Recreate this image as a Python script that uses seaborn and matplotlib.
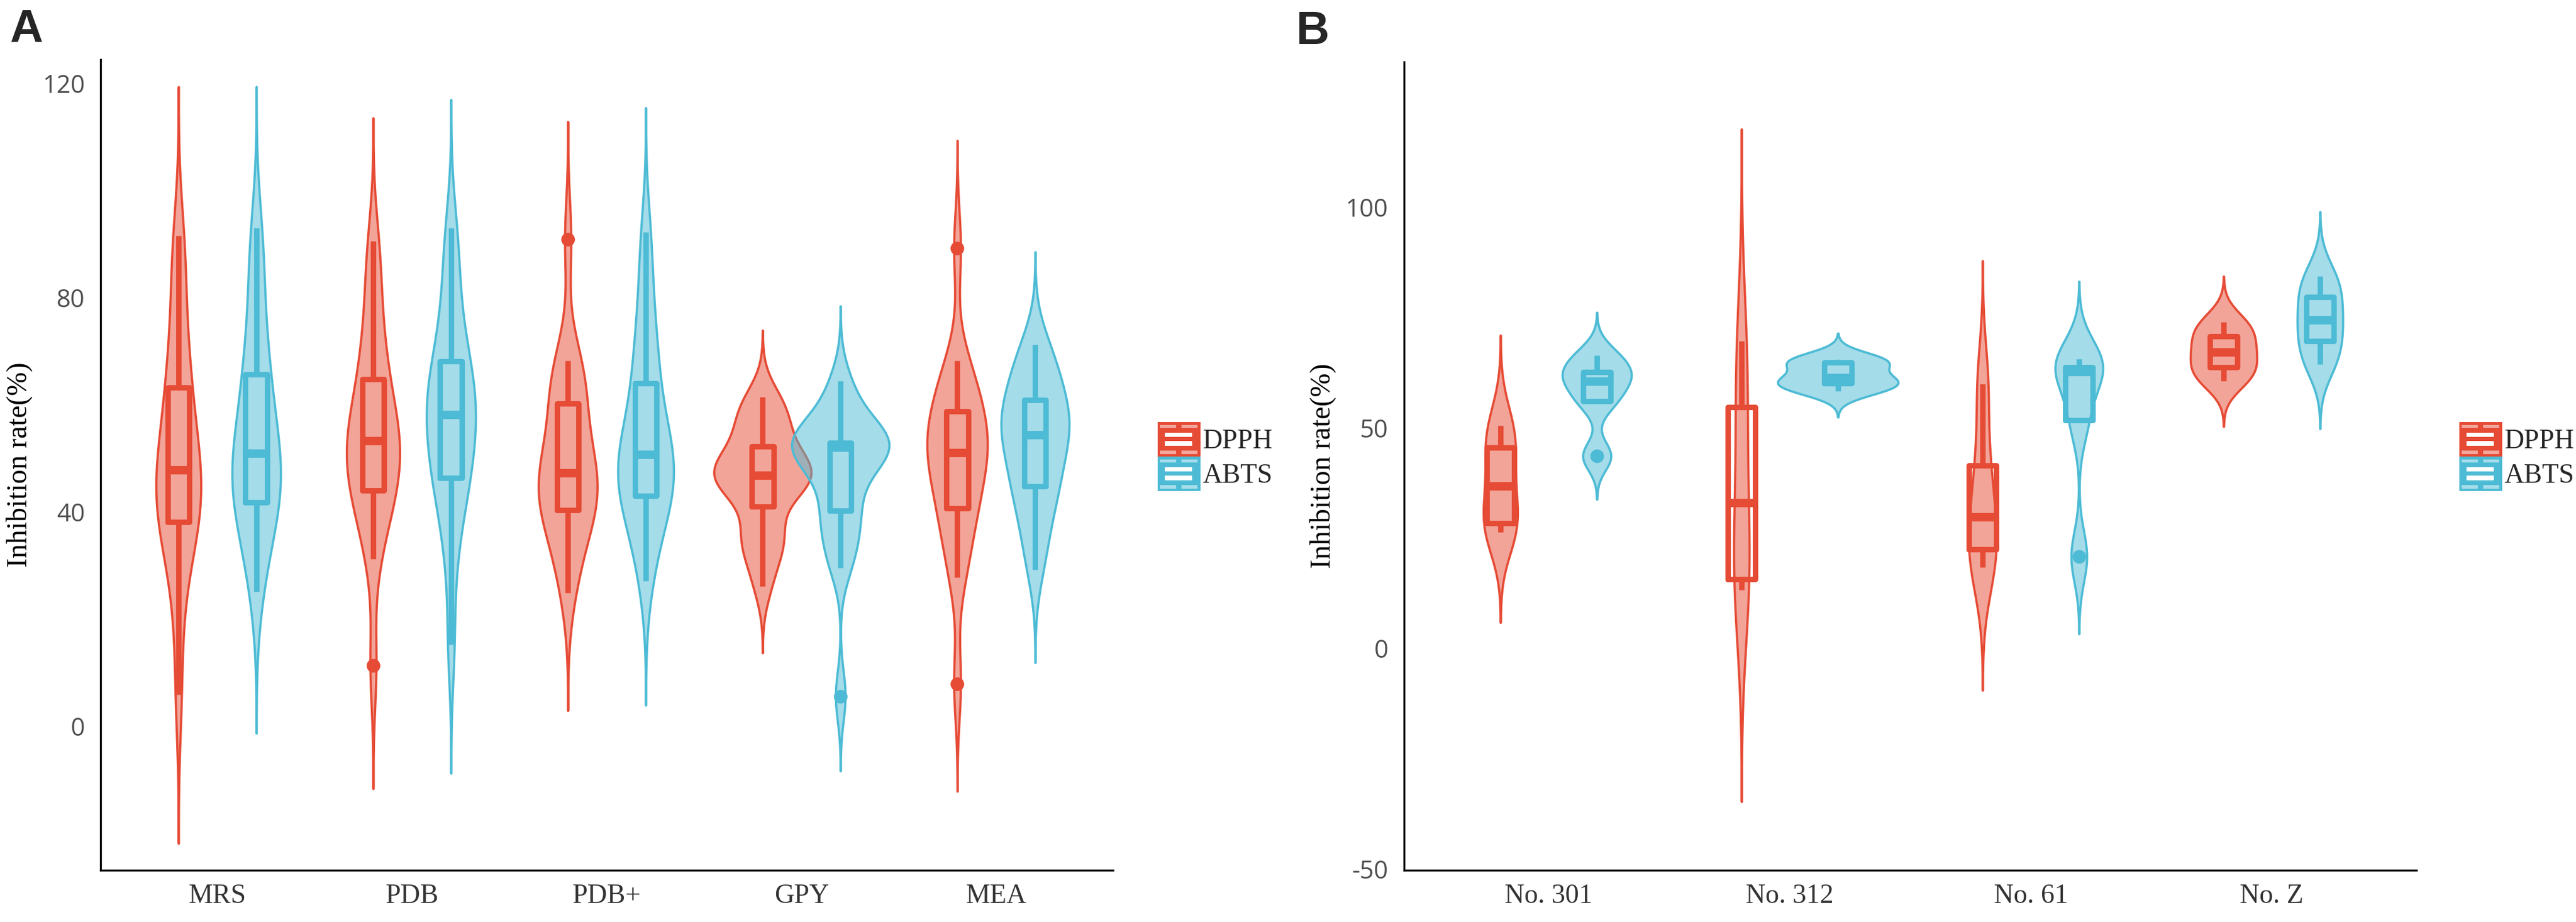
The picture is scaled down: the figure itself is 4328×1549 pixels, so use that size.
import numpy as np
import pandas as pd
import matplotlib
matplotlib.use("Agg")
import matplotlib.pyplot as plt
import seaborn as sns
from matplotlib.legend_handler import HandlerBase
from matplotlib.patches import Rectangle, Patch
from matplotlib.transforms import Affine2D

# ---- data (inhibition rate, %) ----
methods = ['DPPH', 'ABTS']
media = ['MRS', 'PDB', 'PDB+', 'GPY', 'MEA']
strains = ['No. 301', 'No. 312', 'No. 61', 'No. Z']

# panel A: culture media
mrs_dpph = [5.9, 21.0, 30.5, 35.0, 37.5, 38.4, 41.0, 43.5, 45.0, 47.0, 48.6, 51.0, 54.0, 58.0, 62.5, 65.7, 70.0, 78.0, 86.0, 91.6]
mrs_abts = [25.1, 31.0, 36.0, 39.5, 41.0, 42.1, 44.5, 46.5, 48.5, 50.0, 51.8, 54.0, 57.0, 61.0, 65.0, 67.8, 72.0, 80.0, 86.5, 93.0]
pdb_dpph = [11.3, 31.2, 37.0, 41.0, 43.5, 44.2, 46.5, 49.0, 51.0, 52.5, 53.9, 55.5, 57.5, 60.0, 64.0, 67.2, 71.0, 77.0, 84.0, 90.6]
pdb_abts = [15.2, 30.0, 38.0, 43.0, 45.8, 46.6, 50.0, 53.0, 55.5, 57.3, 58.9, 60.5, 62.5, 64.5, 67.5, 69.9, 74.0, 80.0, 87.0, 93.0]
pdbp_dpph = [24.9, 30.0, 34.5, 37.5, 39.8, 40.5, 42.5, 44.0, 45.5, 46.6, 47.8, 49.5, 52.0, 55.5, 59.5, 62.3, 64.5, 66.5, 68.2, 90.9]
pdbp_abts = [27.1, 33.0, 37.5, 40.5, 42.6, 43.2, 45.0, 47.0, 48.8, 50.0, 51.4, 53.0, 55.5, 59.0, 63.0, 67.0, 71.0, 76.0, 84.0, 92.3]
gpy_dpph = [26.1, 31.0, 34.0, 35.5, 37.0, 42.3, 44.5, 45.5, 46.2, 46.6, 47.0, 47.8, 48.6, 49.8, 51.5, 54.3, 56.0, 58.0, 60.0, 61.5]
gpy_abts = [5.6, 29.6, 33.0, 36.0, 39.0, 40.7, 44.0, 47.0, 49.5, 51.8, 52.2, 52.4, 52.6, 52.7, 52.8, 53.2, 55.0, 58.0, 61.0, 64.5]
mea_dpph = [7.9, 27.8, 32.0, 36.5, 40.0, 40.9, 44.0, 47.0, 49.0, 50.4, 51.6, 53.0, 54.5, 56.0, 58.2, 60.6, 62.5, 65.0, 68.2, 89.3]
mea_abts = [29.2, 34.0, 38.0, 41.5, 44.5, 44.9, 47.5, 50.0, 52.5, 53.8, 55.0, 56.2, 57.5, 59.0, 60.5, 62.1, 64.5, 67.0, 69.5, 71.2]

# panel B: strains
s301_dpph = [26.4, 28.4, 36.7, 45.5, 50.5]
s301_abts = [43.6, 56.0, 60.5, 62.7, 66.4]
s312_dpph = [13.3, 15.7, 33.0, 54.7, 69.7]
s312_abts = [58.4, 60.1, 61.3, 64.8, 65.5]
s61_dpph = [18.4, 22.4, 29.7, 41.5, 60.0]
s61_abts = [20.8, 51.7, 62.7, 63.7, 65.7]
sz_dpph = [60.7, 63.7, 67.1, 70.8, 74.0]
sz_abts = [64.4, 69.7, 74.4, 79.7, 84.4]

colors = {'DPPH': '#E64B35', 'ABTS': '#4DBBD5'}
light = {'DPPH': '#F2A59A', 'ABTS': '#A6DDEA'}


def to_frame(cats, dpph_sets, abts_sets):
    rows = []
    for cat, d, a in zip(cats, dpph_sets, abts_sets):
        rows += [(cat, 'DPPH', v) for v in d]
        rows += [(cat, 'ABTS', v) for v in a]
    return pd.DataFrame(rows, columns=['group', 'method', 'rate'])


df_a = to_frame(media,
                [mrs_dpph, pdb_dpph, pdbp_dpph, gpy_dpph, mea_dpph],
                [mrs_abts, pdb_abts, pdbp_abts, gpy_abts, mea_abts])
df_b = to_frame(strains,
                [s301_dpph, s312_dpph, s61_dpph, sz_dpph],
                [s301_abts, s312_abts, s61_abts, sz_abts])


def nrd0(kde):
    # R's default bandwidth, expressed as a factor of the sample sd
    x = kde.dataset[0]
    sd = x.std(ddof=1)
    q75, q25 = np.percentile(x, [75, 25])
    lo = min(sd, (q75 - q25) / 1.34)
    return 0.9 * lo * len(x) ** -0.2 / sd


def draw_panel(ax, df, order):
    sns.violinplot(data=df, x='group', y='rate', hue='method', order=order,
                   hue_order=methods, palette=colors, saturation=1,
                   inner=None, cut=3, bw_method=nrd0, density_norm='area',
                   common_norm=True, width=0.8, linewidth=0.9,
                   legend=False, ax=ax)
    for coll in ax.collections:
        r, g, b, _ = coll.get_facecolor()[0]
        coll.set_facecolor((r, g, b, 0.5))
        coll.set_edgecolor((r, g, b, 1.0))
        xs = coll.get_paths()[0].vertices[:, 0]
        c = (xs.min() + xs.max()) / 2
        coll.set_transform(Affine2D().translate(-c, 0).scale(1.25, 1)
                           .translate(c, 0) + ax.transData)

    sns.boxplot(data=df, x='group', y='rate', hue='method', order=order,
                hue_order=methods, palette=colors, saturation=1, fill=False,
                width=0.8, gap=0.72, linewidth=2.2, showcaps=False,
                medianprops={'linewidth': 3.4},
                flierprops={'marker': 'o', 'markersize': 4.5},
                legend=False, ax=ax)
    for p in ax.patches:
        p.set_facecolor('white')
    for ln in ax.lines:
        if ln.get_marker() == 'o':
            ln.set_markerfacecolor(ln.get_markeredgecolor())

    ax.set_xlim(-0.6, len(order) - 0.4)
    ax.set_xlabel('')
    ax.set_ylabel('Inhibition rate(%)', family='Liberation Serif',
                  fontsize=11.5, color='black')
    ax.yaxis.label.set_verticalalignment('center')
    ax.yaxis.set_label_coords(-0.08, 0.5)
    for lab in ax.get_xticklabels():
        lab.set_family('Liberation Serif')
        lab.set_fontsize(11)
        lab.set_color('#333333')
    ax.tick_params(axis='both', length=2.4, width=0.8, color='#333333')
    ax.tick_params(axis='y', pad=4)
    ax.tick_params(axis='x', pad=3)
    sns.despine(ax=ax)
    for side in ['left', 'bottom']:
        ax.spines[side].set_linewidth(0.8)
        ax.spines[side].set_color('black')


class KeyHandler(HandlerBase):
    def create_artists(self, legend, orig_handle, xdescent, ydescent,
                       width, height, fontsize, trans):
        name = orig_handle.get_label()
        x0, y0 = -xdescent, -ydescent
        arts = [Rectangle((x0, y0), width, height, facecolor=colors[name],
                          edgecolor='none', transform=trans)]
        bars = [(0.06, 0.83, 0.37, 0.09, light[name]),
                (0.55, 0.83, 0.38, 0.09, light[name]),
                (0.16, 0.57, 0.65, 0.12, 'white'),
                (0.16, 0.31, 0.65, 0.13, 'white'),
                (0.06, 0.07, 0.37, 0.10, light[name]),
                (0.55, 0.07, 0.38, 0.10, light[name])]
        for fx, fy, fw, fh, c in bars:
            arts.append(Rectangle((x0 + fx * width, y0 + fy * height),
                                  fw * width, fh * height, facecolor=c,
                                  edgecolor='none', transform=trans))
        return arts


sns.set_style('white')
plt.rcParams['axes.unicode_minus'] = False

fig = plt.figure(figsize=(4328 / 300, 1549 / 300), dpi=300)
ax_a = fig.add_axes([0.03905, 0.05617, 0.39302, 0.87928])
ax_b = fig.add_axes([0.54505, 0.05617, 0.39302, 0.87669])

draw_panel(ax_a, df_a, media)
ax_a.set_ylim(-26.9, 124.5)
ax_a.set_yticks([0, 40, 80, 120])

draw_panel(ax_b, df_b, strains)
ax_b.set_ylim(-50.3, 133.0)
ax_b.set_yticks([-50, 0, 50, 100])

for ax in (ax_a, ax_b):
    for lab in ax.get_yticklabels():
        lab.set_family('Open Sans')
        lab.set_fontsize(10)
        lab.set_color('#4D4D4D')

handles = [Patch(label=m) for m in methods]
for x_anchor in (1945 / 4328, 4132 / 4328):
    fig.legend(handles=handles, labels=methods, handler_map={Patch: KeyHandler()},
               loc='upper left', bbox_to_anchor=(x_anchor, 1 - 709 / 1549),
               frameon=False, borderpad=0, borderaxespad=0, labelspacing=0,
               handlelength=1.57, handleheight=1.57, handletextpad=0.08,
               prop={'family': 'Liberation Serif', 'size': 11})

fig.text(16 / 4328, 1 - 71 / 1549, 'A', family='Liberation Sans',
         weight='bold', fontsize=18.5, ha='left', va='baseline')
fig.text(2178 / 4328, 1 - 74 / 1549, 'B', family='Liberation Sans',
         weight='bold', fontsize=18.5, ha='left', va='baseline')

fig.savefig('out.png', dpi=300)
